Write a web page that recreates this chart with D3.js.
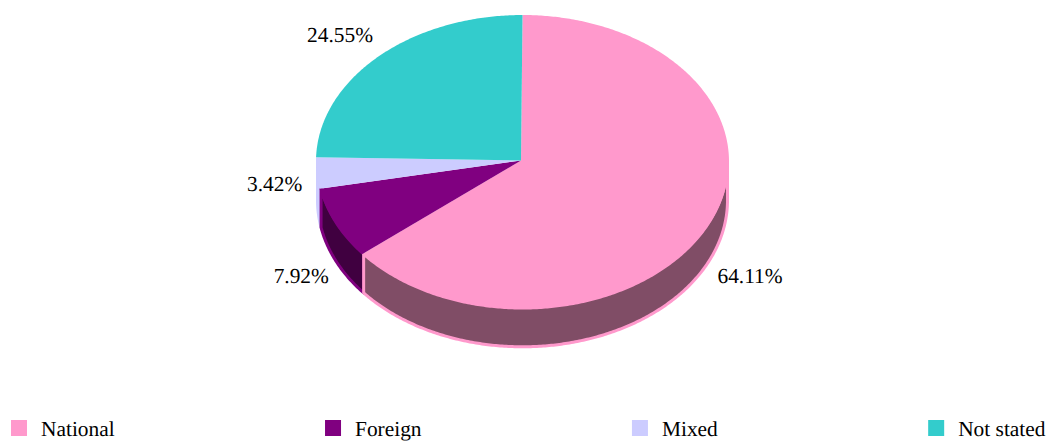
<!DOCTYPE html>
<html>
<head>
<meta charset="utf-8">
<script src="https://cdn.jsdelivr.net/npm/d3@7"></script>
<style>
  html, body { margin: 0; padding: 0; background: #fff; }
  svg { display: block; }
  text { font-family: "Liberation Serif", serif; font-size: 21.4px; fill: #000; text-rendering: geometricPrecision; }
</style>
</head>
<body>
<div id="chart"></div>
<script>
// chart data
const categories = ["National", "Foreign", "Mixed", "Not stated"];
const shares = [64.11, 7.92, 3.42, 24.55];
const colors = ["#ff99cc", "#800080", "#ccccff", "#33cccc"];
const sideColors = ["#804d66", "#400040", "#ccccff", "#1a6666"];

const width = 1048;
const height = 441;
const depth = 38.8;
const wallStroke = 3;
const labelOffsets = [[41, 58.5], [-34, 59.5], [-42, 17.5], [-38.5, -14.5]];

const svg = d3.select("#chart")
  .append("svg")
    .attr("width", width)
    .attr("height", height);

// the pie is a unit circle squashed to an ellipse by these scales
const x = d3.scaleLinear().domain([-1, 1]).range([316, 729]);
const y = d3.scaleLinear().domain([-1, 1]).range([15, 308]);
// the wall is inset by half its stroke so the outline stays inside the ellipse
const wallX = d3.scaleLinear().domain([-1, 1]).range([316 + wallStroke / 2, 729 - wallStroke / 2]);
// the slices meet a little left of and above the middle of the ellipse
const pivot = [x(0) - 1.5, y(0) - 1];

const slices = d3.pie().sort(null).value(d => d)(shares);

const angles = (a0, a1) => d3.range(a0, a1, 0.01).concat([a1]);
const rimX = a => x(Math.sin(a));
const rimY = a => y(-Math.cos(a));

// top face of one slice
function topPath(d) {
  const rim = angles(d.startAngle, d.endAngle).map(a => [rimX(a), rimY(a)]);
  return d3.line()([pivot].concat(rim)) + "Z";
}

// front wall of one slice, only the part on the front half of the ellipse
function sidePath(d) {
  const a0 = Math.max(d.startAngle, Math.PI / 2);
  const a1 = Math.min(d.endAngle, Math.PI * 1.5);
  if (a0 >= a1) return null;
  const pts = angles(a0, a1);
  const top = pts.map(a => [wallX(Math.sin(a)), rimY(a)]);
  const bottom = pts.slice().reverse().map(a => [wallX(Math.sin(a)), rimY(a) + depth]);
  return d3.line()(top.concat(bottom)) + "Z";
}

// walls go first, from the left so National ends on top
const order = [2, 1, 0];
svg.append("g")
  .selectAll("path")
  .data(order.map(i => slices[i]))
  .join("path")
    .attr("d", sidePath)
    .attr("fill", d => sideColors[d.index])
    .attr("stroke", d => colors[d.index])
    .attr("stroke-width", wallStroke)
    .attr("stroke-linejoin", "round");

svg.append("g")
  .selectAll("path")
  .data(slices)
  .join("path")
    .attr("d", topPath)
    .attr("fill", d => colors[d.index]);

// value labels, placed from the middle of each slice's rim
svg.append("g")
  .selectAll("text")
  .data(slices)
  .join("text")
    .attr("text-anchor", "middle")
    .attr("x", d => rimX((d.startAngle + d.endAngle) / 2) + labelOffsets[d.index][0])
    .attr("y", d => rimY((d.startAngle + d.endAngle) / 2) + labelOffsets[d.index][1])
    .text(d => d.value.toFixed(2) + "%");

// legend: four items spread evenly between the two page edges
const legendLeft = 11;
const legendRight = 1045.5;
const swatch = 16;
const swatchGap = 14;
const legend = svg.append("g");
const items = legend.selectAll("g")
  .data(categories)
  .join("g");

items.append("rect")
  .attr("y", 420)
  .attr("width", swatch)
  .attr("height", swatch)
  .attr("fill", (d, i) => colors[i]);

items.append("text")
  .attr("x", swatch + swatchGap)
  .attr("y", 436)
  .text(d => d);

const itemWidths = [];
items.selectAll("text").each(function() {
  itemWidths.push(swatch + swatchGap + this.getComputedTextLength());
});
const gap = (legendRight - legendLeft - d3.sum(itemWidths)) / (categories.length - 1);
items.attr("transform", (d, i) =>
  "translate(" + (legendLeft + d3.sum(itemWidths.slice(0, i)) + gap * i) + ",0)");
</script>
</body>
</html>
